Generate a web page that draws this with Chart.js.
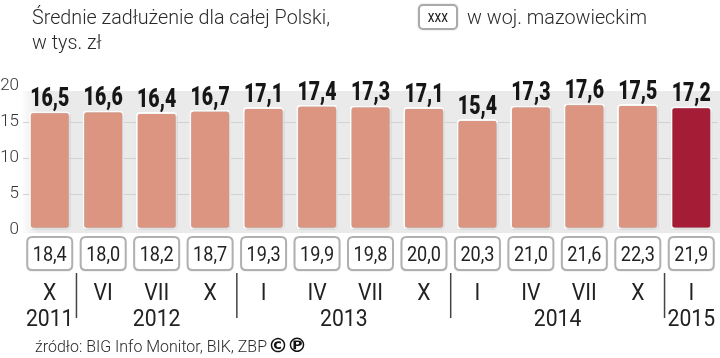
<!DOCTYPE html>
<html>
<head>
<meta charset="utf-8">
<script src="https://cdn.jsdelivr.net/npm/chart.js@4.4.1/dist/chart.umd.min.js"></script>
<style>
  html, body { margin: 0; padding: 0; background: #fff; }
  #wrap { position: relative; width: 720px; height: 358px; overflow: hidden; }
  canvas { position: absolute; left: 0; top: 0; }
  .t { position: absolute; font-family: Roboto, "Open Sans", sans-serif; font-weight: 300; color: #2a2a2a; white-space: nowrap; transform-origin: 0 0; }
  #title { left: 32px; top: 5px; font-size: 20px; line-height: 25px; }
  #legbox { position: absolute; left: 418px; top: 4px; width: 36px; height: 22px; border: 2px solid #aaa; border-radius: 5px; background: #fff;
            font-family: Roboto, sans-serif; font-size: 16px; line-height: 22px; text-align: center; color: #222; box-shadow: 0 0 2px rgba(0,0,0,0.2); }
  #legbox span { display: inline-block; transform: scaleX(0.85); }
  #legtxt { left: 467px; top: 5px; font-size: 20px; line-height: 25px; }
  #src { left: 35px; top: 336px; font-size: 17px; line-height: 20px; }
  #icons { position: absolute; left: 268px; top: 334px; font-family: "DejaVu Sans", sans-serif; font-weight: bold; font-size: 20px; line-height: 22px; color: #111; letter-spacing: -1px; }
</style>
</head>
<body>
<div id="wrap">
  <canvas id="c" width="720" height="358"></canvas>
  <div class="t" id="title" data-w="298">Średnie zadłużenie dla całej Polski,<br>w tys. zł</div>
  <div id="legbox"><span>xxx</span></div>
  <div class="t" id="legtxt" data-w="180">w woj. mazowieckim</div>
  <div class="t" id="src" data-w="232">źródło: BIG Info Monitor, BIK, ZBP</div>
  <div id="icons">©℗</div>
</div>
<script>
const months = ['X','VI','VII','X','I','IV','VII','X','I','IV','VII','X','I'];
const yearOfCategory = ['2011','2012','2012','2012','2013','2013','2013','2013','2014','2014','2014','2014','2015'];
const nationalAvg = [16.5,16.6,16.4,16.7,17.1,17.4,17.3,17.1,15.4,17.3,17.6,17.5,17.2];
const mazowieckieAvg = [18.4,18.0,18.2,18.7,19.3,19.9,19.8,20.0,20.3,21.0,21.6,22.3,21.9];
const yTicks = [0,5,10,15,20];

const FONT = 'Roboto, "Open Sans", sans-serif';
const fmt = v => v.toFixed(1).replace('.', ',');

// horizontally compress HTML text blocks to the reference widths (condensed look)
document.querySelectorAll('.t[data-w]').forEach(el => {
  const target = +el.dataset.w;
  let w = el.getBoundingClientRect().width;
  if (el.id === 'title') {
    const r = document.createRange();
    r.setStart(el.firstChild, 0); r.setEnd(el.firstChild, el.firstChild.length);
    w = r.getBoundingClientRect().width;
  }
  el.style.transform = 'scaleX(' + (target / w) + ')';
});

function sText(ctx, text, x, y, sx) {
  ctx.save();
  ctx.translate(x, y);
  ctx.scale(sx, 1);
  ctx.fillText(text, 0, 0);
  ctx.restore();
}

function roundRect(ctx, x, y, w, h, r) {
  ctx.beginPath();
  ctx.moveTo(x + r, y);
  ctx.lineTo(x + w - r, y);
  ctx.quadraticCurveTo(x + w, y, x + w, y + r);
  ctx.lineTo(x + w, y + h - r);
  ctx.quadraticCurveTo(x + w, y + h, x + w - r, y + h);
  ctx.lineTo(x + r, y + h);
  ctx.quadraticCurveTo(x, y + h, x, y + h - r);
  ctx.lineTo(x, y + r);
  ctx.quadraticCurveTo(x, y, x + r, y);
  ctx.closePath();
}

const bgPlugin = {
  id: 'bg',
  beforeDraw(chart) {
    const ctx = chart.ctx, a = chart.chartArea;
    ctx.save();
    const g = ctx.createLinearGradient(a.left - 2, 0, a.left + 14, 0);
    g.addColorStop(0, 'rgba(234,234,234,0)');
    g.addColorStop(1, '#eaeaea');
    ctx.fillStyle = g;
    ctx.fillRect(a.left - 2, a.top + 5, a.right - a.left + 4, a.bottom - a.top - 2);
    ctx.restore();
  }
};

const shadowPlugin = {
  id: 'barShadow',
  beforeDatasetDraw(chart) {
    const ctx = chart.ctx;
    ctx.save();
    ctx.shadowColor = 'rgba(0,0,0,0.25)';
    ctx.shadowBlur = 3;
    ctx.shadowOffsetX = 1;
    ctx.shadowOffsetY = 1;
  },
  afterDatasetDraw(chart) { chart.ctx.restore(); }
};

const annotatePlugin = {
  id: 'annot',
  afterDatasetsDraw(chart) {
    const ctx = chart.ctx;
    const xs = chart.scales.x;
    const meta = chart.getDatasetMeta(0);
    ctx.save();
    ctx.textAlign = 'center';
    // value labels above bars
    ctx.fillStyle = '#161616';
    ctx.textBaseline = 'alphabetic';
    ctx.font = '900 25px ' + FONT;
    meta.data.forEach((bar, i) => sText(ctx, fmt(nationalAvg[i]), bar.x, bar.y - 5, 0.78));
    // boxes with regional values
    mazowieckieAvg.forEach((v, i) => {
      const x = xs.getPixelForValue(i);
      ctx.save();
      ctx.shadowColor = 'rgba(0,0,0,0.2)';
      ctx.shadowBlur = 2;
      ctx.shadowOffsetY = 1;
      roundRect(ctx, x - 22.5, 237, 45, 33, 5);
      ctx.fillStyle = '#fff';
      ctx.fill();
      ctx.restore();
      roundRect(ctx, x - 22.5, 237, 45, 33, 5);
      ctx.lineWidth = 2;
      ctx.strokeStyle = '#b0b0b0';
      ctx.stroke();
      ctx.fillStyle = '#222';
      ctx.font = '21px ' + FONT;
      ctx.textBaseline = 'alphabetic';
      sText(ctx, fmt(v), x, 261, 0.86);
    });
    // month labels
    ctx.font = '23px ' + FONT;
    ctx.fillStyle = '#222';
    ctx.textBaseline = 'alphabetic';
    months.forEach((m, i) => sText(ctx, m, xs.getPixelForValue(i), 300, 0.92));
    // year labels and separators
    const groups = [];
    yearOfCategory.forEach((y, i) => {
      if (!groups.length || groups[groups.length - 1].y !== y) groups.push({ y, idx: [i] });
      else groups[groups.length - 1].idx.push(i);
    });
    groups.forEach((g, gi) => {
      const px = g.idx.map(i => xs.getPixelForValue(i));
      const cx = px.reduce((a, b) => a + b, 0) / px.length;
      sText(ctx, g.y, cx, 326, 0.92);
      if (gi > 0) {
        const sx = (xs.getPixelForValue(g.idx[0] - 1) + px[0]) / 2;
        ctx.beginPath();
        ctx.moveTo(sx, 273);
        ctx.lineTo(sx, 318);
        ctx.lineWidth = 1.5;
        ctx.strokeStyle = '#444';
        ctx.stroke();
      }
    });
    ctx.restore();
  }
};

new Chart(document.getElementById('c'), {
  type: 'bar',
  data: {
    labels: months,
    datasets: [{
      data: nationalAvg,
      backgroundColor: nationalAvg.map((v, i) => i === nationalAvg.length - 1 ? '#a51c36' : '#db9580'),
      borderColor: '#ffffff',
      borderWidth: 2,
      borderRadius: 4,
      borderSkipped: false,
      categoryPercentage: 1,
      barPercentage: 0.78
    }]
  },
  options: {
    responsive: false,
    devicePixelRatio: 1,
    animation: false,
    layout: { padding: { left: 0, right: 2, top: 86, bottom: 128 } },
    plugins: { legend: { display: false }, tooltip: { enabled: false } },
    scales: {
      x: { display: false, offset: true, grid: { display: false } },
      y: {
        min: 0, max: 20,
        afterBuildTicks: s => { s.ticks = yTicks.map(v => ({ value: v })); },
        afterFit: s => { s.width = 23; },
        border: { display: false },
        grid: {
          drawTicks: false,
          color: c => (c.tick && (c.tick.value === 0 || c.tick.value === 20)) ? 'rgba(0,0,0,0)' : '#d2d2d2',
          lineWidth: 1
        },
        ticks: { color: '#333', font: { family: FONT, size: 17, weight: 300 }, padding: 4 }
      }
    }
  },
  plugins: [bgPlugin, shadowPlugin, annotatePlugin]
});
</script>
</body>
</html>
